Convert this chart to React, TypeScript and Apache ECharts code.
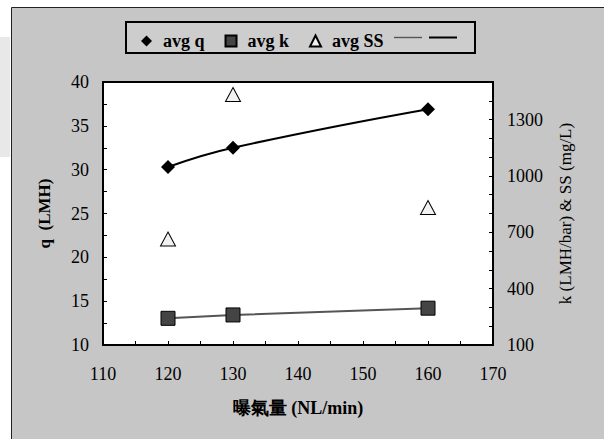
import React, { useEffect, useRef } from "react";
import * as echarts from "echarts";

const aeration = [120, 130, 160];
const avgQ = [30.3, 32.5, 36.9];
const avgK = [242, 260, 296];
const avgSS = [664, 1433, 832];

const xTicks = { min: 110, max: 170, interval: 10 };
const yLeft = { min: 10, max: 40, interval: 5 };
const yRight = { min: 100, max: 1500, interval: 300 };

const FONT = "Liberation Serif";

export default function App() {
  const ref = useRef<HTMLDivElement>(null);
  useEffect(() => {
    if (!ref.current) return;
    const chart = echarts.init(ref.current, undefined, { renderer: "svg" });
    const pairs = (ys: number[]) => aeration.map((x, i) => [x, ys[i]]);
    const axisCommon = {
      axisLine: { show: true, lineStyle: { color: "#000", width: 2 } },
      axisTick: { show: true, inside: true, length: 4, lineStyle: { color: "#000", width: 1 } },
      minorTick: { show: true, length: 4, lineStyle: { color: "#000", width: 1 } },
      splitLine: { show: false },
      axisLabel: { color: "#000", fontFamily: FONT, fontSize: 18, formatter: (v: number) => String(v) },
    };
    chart.setOption({
      animation: false,
      backgroundColor: "#fff",
      textStyle: { fontFamily: FONT, color: "#000" },
      graphic: [
        { type: "rect", shape: { x: 0, y: 37, width: 10, height: 120 }, style: { fill: "#e8e8e8" }, z: -10 },
        { type: "rect", shape: { x: 11.5, y: 7.5, width: 600, height: 440 }, style: { fill: "#c6c6c6", stroke: "#222", lineWidth: 1 }, z: -10 },
        { type: "rect", shape: { x: 126, y: 22, width: 349, height: 31 }, style: { fill: "#cdcdcd", stroke: "#000", lineWidth: 2 }, z: -5 },
      ],
      grid: {
        left: 103,
        right: 111,
        top: 82,
        bottom: 94,
        show: true,
        backgroundColor: "#fff",
        borderColor: "#000",
        borderWidth: 2,
      },
      legend: [
        {
          data: [
            { name: "avg q", icon: "diamond" },
            { name: "avg k", icon: "rect" },
            { name: "avg SS", icon: "triangle" },
          ],
          left: 136,
          top: 27,
          itemWidth: 11,
          itemHeight: 11,
          itemGap: 20,
          textStyle: { fontFamily: FONT, fontSize: 18, fontWeight: "bold", color: "#000", padding: [0, 0, 0, 6] },
        },
        {
          data: [
            { name: "trend k", icon: "path://M0 0H28V1.4H0Z" },
            { name: "trend q", icon: "path://M0 0H28V2H0Z" },
          ],
          left: 389,
          top: 27,
          itemWidth: 28,
          itemHeight: 11,
          itemGap: 7,
          formatter: () => "",
          textStyle: { fontFamily: FONT, fontSize: 18 },
        },
      ],
      xAxis: {
        type: "value",
        ...xTicks,
        ...axisCommon,
        axisLabel: { ...axisCommon.axisLabel, margin: 20 },
        minorTick: { ...axisCommon.minorTick, splitNumber: 2 },
        name: "曝氣量 (NL/min)",
        nameLocation: "middle",
        nameGap: 54,
        nameTextStyle: { fontFamily: FONT, fontSize: 18, fontWeight: "bold", color: "#000" },
      },
      yAxis: [
        {
          type: "value",
          position: "left",
          ...yLeft,
          ...axisCommon,
          axisLabel: { ...axisCommon.axisLabel, margin: 14 },
          minorTick: { ...axisCommon.minorTick, splitNumber: 2 },
          name: "q  (LMH)",
          nameLocation: "middle",
          nameRotate: 90,
          nameGap: 50,
          nameTextStyle: { fontFamily: FONT, fontSize: 17, fontWeight: "bold", color: "#000" },
        },
        {
          type: "value",
          position: "right",
          ...yRight,
          ...axisCommon,
          axisLabel: { ...axisCommon.axisLabel, margin: 14, showMaxLabel: false },
          minorTick: { ...axisCommon.minorTick, splitNumber: 3 },
          name: "k (LMH/bar) & SS (mg/L)",
          nameLocation: "middle",
          nameRotate: 90,
          nameGap: 64,
          nameTextStyle: { fontFamily: FONT, fontSize: 17, color: "#000" },
        },
      ],
      series: [
        {
          name: "trend k",
          type: "line",
          yAxisIndex: 1,
          data: pairs(avgK),
          symbol: "none",
          lineStyle: { color: "#555", width: 2 },
          itemStyle: { color: "#555" },
          z: 2,
        },
        {
          name: "trend q",
          type: "line",
          yAxisIndex: 0,
          data: pairs(avgQ),
          symbol: "none",
          smooth: 0.45,
          lineStyle: { color: "#000", width: 2 },
          itemStyle: { color: "#000" },
          z: 2,
        },
        {
          name: "avg q",
          type: "scatter",
          yAxisIndex: 0,
          data: pairs(avgQ),
          symbol: "diamond",
          symbolSize: [14, 14],
          itemStyle: { color: "#000", opacity: 1 },
          z: 5,
        },
        {
          name: "avg k",
          type: "scatter",
          yAxisIndex: 1,
          data: pairs(avgK),
          symbol: "rect",
          symbolSize: 14,
          itemStyle: { color: "#444", borderColor: "#000", borderWidth: 1, opacity: 1 },
          z: 5,
        },
        {
          name: "avg SS",
          type: "scatter",
          yAxisIndex: 1,
          data: pairs(avgSS),
          symbol: "triangle",
          symbolSize: [15, 14],
          itemStyle: { color: "#f2f2f2", borderColor: "#000", borderWidth: 1, opacity: 1 },
          z: 5,
        },
      ],
    });
    return () => chart.dispose();
  }, []);
  return (
    <div
      ref={ref}
      style={{ position: "fixed", left: 0, top: 0, width: 604, height: 439 }}
    />
  );
}
